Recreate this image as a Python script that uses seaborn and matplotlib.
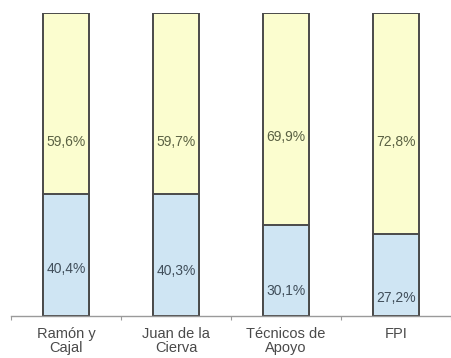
import matplotlib
matplotlib.use("Agg")
import matplotlib.pyplot as plt
import seaborn as sns
import pandas as pd
import numpy as np

# Data
categories = ["Ramón y\nCajal", "Juan de la\nCierva", "Técnicos de\nApoyo", "FPI"]
share_low = [40.4, 40.3, 30.1, 27.2]     # lower (blue) segment, %
share_high = [59.6, 59.7, 69.9, 72.8]    # upper (yellow) segment, %

# Vertical placement of the value labels (in % units of the axis)
low_label_y = [15.5, 14.8, 8.2, 6.0]
high_label_y = [57.5, 57.5, 59.0, 57.5]

sns.set_theme(style="white")
plt.rcParams["font.family"] = ["Liberation Sans", "DejaVu Sans"]

df = pd.DataFrame({
    "cat": categories,
    "low": share_low,
    "high": share_high,
})
df["total"] = df["low"] + df["high"]

fig = plt.figure(figsize=(4.51, 3.58), dpi=100)
ax = fig.add_axes([11 / 451, 42 / 358, 440 / 451, 303 / 358])

edge = "#4a4a4a"
sns.barplot(data=df, x="cat", y="total", color="#fbfdcf", edgecolor=edge,
            linewidth=1.4, width=0.42, saturation=1, ax=ax)
sns.barplot(data=df, x="cat", y="low", color="#cfe5f3", edgecolor=edge,
            linewidth=1.4, width=0.42, saturation=1, ax=ax)

for i in range(len(categories)):
    ax.text(i, high_label_y[i], f"{share_high[i]:.1f}%".replace(".", ","),
            ha="center", va="center", fontsize=10, color="#5a6143")
    ax.text(i, low_label_y[i], f"{share_low[i]:.1f}%".replace(".", ","),
            ha="center", va="center", fontsize=10, color="#404e5a")

ax.set_xlim(-0.5, 3.5)
ax.set_ylim(0, 100)
ax.set_xlabel("")
ax.set_ylabel("")
ax.set_yticks([])
for s in ["top", "right", "left"]:
    ax.spines[s].set_visible(False)
ax.spines["bottom"].set_color("#9a9a9a")
ax.spines["bottom"].set_linewidth(1.0)

ax.set_xticks(range(len(categories)))
ax.set_xticklabels(categories, fontsize=10.5, color="#4a4a4a",
                   linespacing=1.0)
ax.tick_params(axis="x", which="major", length=0, pad=8)
ax.set_xticks(np.arange(-0.5, 3.6, 1.0), minor=True)
ax.tick_params(axis="x", which="minor", length=3, width=0.8, color="#9a9a9a",
               direction="out", bottom=True)

fig.savefig("out.png", dpi=100)
